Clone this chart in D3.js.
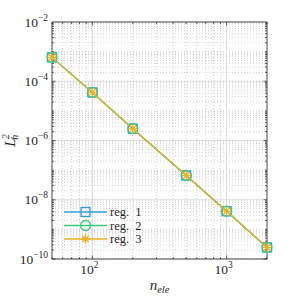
<!DOCTYPE html>
<html><head><meta charset="utf-8">
<script src="https://cdn.jsdelivr.net/npm/d3@7"></script>
<style>body{margin:0;background:#fff}svg{display:block}text{font-family:"Liberation Serif","Times New Roman",serif;fill:#262626}</style>
</head><body>
<script>
const nEle = [50, 100, 200, 500, 1000, 2000];
const reg1 = [6.4e-4, 4.2e-5, 2.5e-6, 6.6e-8, 4.1e-9, 2.45e-10];
const reg2 = [6.4e-4, 4.2e-5, 2.5e-6, 6.6e-8, 4.1e-9, 2.45e-10];
const reg3 = [6.4e-4, 4.2e-5, 2.5e-6, 6.6e-8, 4.1e-9, 2.45e-10];
const seriesNames = ["reg. 1", "reg. 2", "reg. 3"];
const colors = ["#2c9fdc", "#3cc77c", "#edb120"];
const markers = ["square", "circle", "star"];
const xTickExps = [2, 3];
const yTickExps = [-2, -4, -6, -8, -10];
const xDomain = [50, 2000];
const yDomain = [1e-10, 1e-2];

const W = 296, H = 296;
const m = {l: 52, r: 29, t: 22, b: 37};
const svg = d3.select("body").append("svg").attr("width", W).attr("height", H);
const x = d3.scaleLog().domain(xDomain).range([m.l, W - m.r]);
const y = d3.scaleLog().domain(yDomain).range([H - m.b, m.t]);
const x0 = m.l, x1 = W - m.r, y0 = H - m.b, y1 = m.t;

const xMinor = [];
for (let e = 1; e <= 3; e++) for (let k = 1; k <= 9; k++) { const v = k * Math.pow(10, e); if (v >= xDomain[0] && v <= xDomain[1]) xMinor.push(v); }
const yMinor = [];
for (let e = -10; e <= -3; e++) for (let k = 1; k <= 9; k++) { const v = k * Math.pow(10, e); if (v >= yDomain[0] && v <= yDomain[1]) yMinor.push(v); }

const g = svg.append("g");
g.selectAll(".gx").data(xMinor).join("line")
  .attr("x1", d => x(d)).attr("x2", d => x(d)).attr("y1", y0).attr("y2", y1)
  .attr("stroke", "#bdbdbd").attr("stroke-width", 0.7).attr("stroke-dasharray", "1,2");
g.selectAll(".gy").data(yMinor).join("line")
  .attr("y1", d => y(d)).attr("y2", d => y(d)).attr("x1", x0).attr("x2", x1)
  .attr("stroke", "#bdbdbd").attr("stroke-width", 0.7).attr("stroke-dasharray", "1,2");
g.selectAll(".Gx").data(xTickExps.map(e => Math.pow(10, e))).join("line")
  .attr("x1", d => x(d)).attr("x2", d => x(d)).attr("y1", y0).attr("y2", y1)
  .attr("stroke", "#d8d8d8").attr("stroke-width", 0.8);
g.selectAll(".Gy").data(yTickExps.map(e => Math.pow(10, e))).join("line")
  .attr("y1", d => y(d)).attr("y2", d => y(d)).attr("x1", x0).attr("x2", x1)
  .attr("stroke", "#d8d8d8").attr("stroke-width", 0.8);

const tk = svg.append("g").attr("stroke", "#262626").attr("stroke-width", 0.7);
xMinor.forEach(v => {
  const L = xTickExps.some(e => Math.abs(Math.pow(10, e) - v) < 1e-9) ? 3.5 : 2;
  tk.append("line").attr("x1", x(v)).attr("x2", x(v)).attr("y1", y0).attr("y2", y0 - L);
  tk.append("line").attr("x1", x(v)).attr("x2", x(v)).attr("y1", y1).attr("y2", y1 + L);
});
yMinor.forEach(v => {
  const L = yTickExps.some(e => Math.abs(Math.log10(v) - e) < 1e-9) ? 3.5 : 2;
  tk.append("line").attr("y1", y(v)).attr("y2", y(v)).attr("x1", x0).attr("x2", x0 + L);
  tk.append("line").attr("y1", y(v)).attr("y2", y(v)).attr("x1", x1).attr("x2", x1 - L);
});
svg.append("rect").attr("x", x0).attr("y", y1).attr("width", x1 - x0).attr("height", y0 - y1)
  .attr("fill", "none").attr("stroke", "#262626").attr("stroke-width", 0.8);

xTickExps.forEach(e => {
  const t = svg.append("text").attr("x", x(Math.pow(10, e)) - 3).attr("y", 274).attr("text-anchor", "middle").attr("font-size", 13.5);
  t.append("tspan").text("10");
  t.append("tspan").attr("dy", -6).attr("font-size", 9.5).text(e);
});
yTickExps.forEach(e => {
  const t = svg.append("text").attr("x", 48).attr("y", y(Math.pow(10, e)) + 4.5).attr("text-anchor", "end").attr("font-size", 13.5);
  t.append("tspan").text("10");
  t.append("tspan").attr("dy", -6).attr("font-size", 9.5).text("\u2212" + (-e));
});

const xl = svg.append("text").attr("x", (x0 + x1) / 2).attr("y", 290).attr("text-anchor", "middle").attr("font-size", 15).attr("font-style", "italic");
xl.append("tspan").text("n");
xl.append("tspan").attr("dy", 3).attr("font-size", 10.5).text("ele");
const yl = svg.append("text").attr("transform", `translate(15,${(y0 + y1) / 2}) rotate(-90)`).attr("text-anchor", "middle").attr("font-size", 15).attr("font-style", "italic");
yl.append("tspan").text("L");
yl.append("tspan").attr("dy", -6).attr("dx", -1).attr("font-size", 10).text("2");
yl.append("tspan").attr("dy", 9).attr("dx", -5.5).attr("font-size", 10).text("h");

function drawMarker(sel, type, cx, cy, color) {
  if (type === "square") sel.append("rect").attr("x", cx - 4.5).attr("y", cy - 4.5).attr("width", 9).attr("height", 9)
    .attr("fill", "none").attr("stroke", color).attr("stroke-width", 1.3);
  else if (type === "circle") sel.append("circle").attr("cx", cx).attr("cy", cy).attr("r", 5)
    .attr("fill", "none").attr("stroke", color).attr("stroke-width", 1.3);
  else {
    const s = 4.5, d = s * 0.707;
    [[0, -s, 0, s], [-s, 0, s, 0], [-d, -d, d, d], [-d, d, d, -d]].forEach(p =>
      sel.append("line").attr("x1", cx + p[0]).attr("y1", cy + p[1]).attr("x2", cx + p[2]).attr("y2", cy + p[3])
        .attr("stroke", color).attr("stroke-width", 1.3));
  }
}

const series = [reg1, reg2, reg3];
const line = d3.line().x(d => x(d[0])).y(d => y(d[1]));
series.forEach((vals, i) => {
  const pts = nEle.map((n, j) => [n, vals[j]]);
  const sg = svg.append("g");
  sg.append("path").attr("d", line(pts)).attr("fill", "none").attr("stroke", colors[i]).attr("stroke-width", 1.3);
  pts.forEach(p => drawMarker(sg, markers[i], x(p[0]), y(p[1]), colors[i]));
});

const lg = svg.append("g");
seriesNames.forEach((name, i) => {
  const ly = 212 + i * 13.5;
  lg.append("line").attr("x1", 64).attr("x2", 107).attr("y1", ly).attr("y2", ly).attr("stroke", colors[i]).attr("stroke-width", 1.3);
  drawMarker(lg, markers[i], 85.5, ly, colors[i]);
  lg.append("text").attr("x", 110).attr("y", ly + 4).attr("font-size", 12.5).text(name.replace(" ", "\u00a0\u00a0"));
});
</script>
</body></html>
